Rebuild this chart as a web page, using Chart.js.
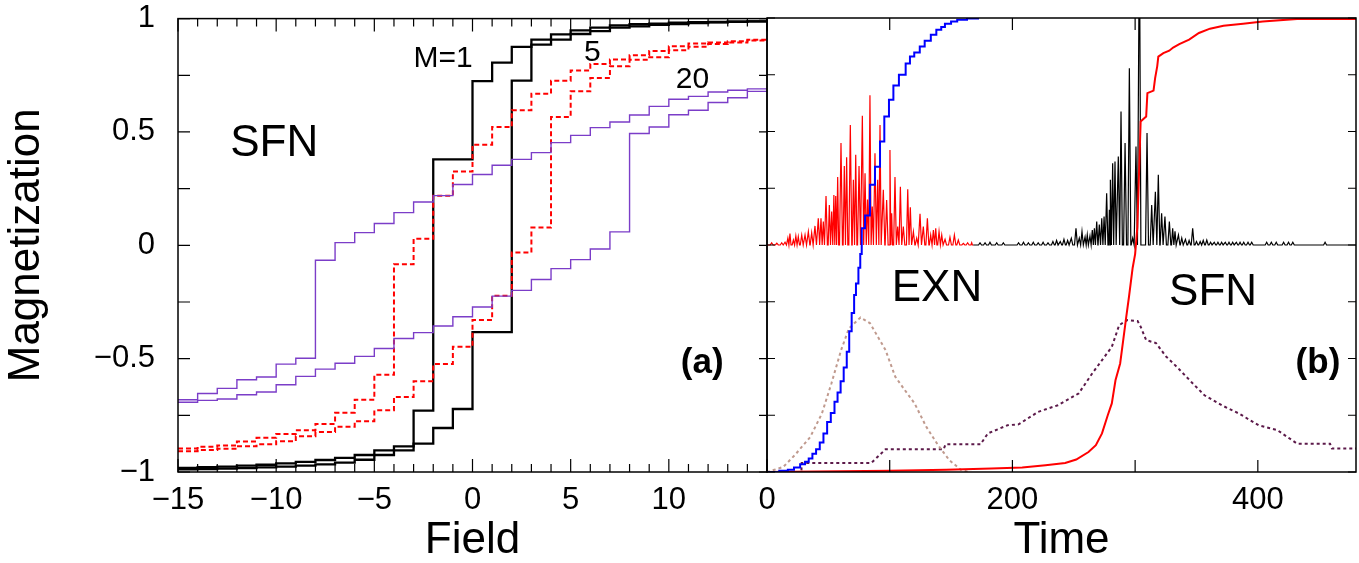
<!DOCTYPE html>
<html>
<head>
<meta charset="utf-8">
<title>Magnetization vs field and time</title>
<script src="https://cdn.jsdelivr.net/npm/chart.js@4.4.1/dist/chart.umd.min.js"></script>
<style>
  html, body { margin: 0; padding: 0; background: #fff; overflow: hidden; }
  #wrap { position: relative; width: 1359px; height: 563px; }
  #wrap canvas { position: absolute; left: 0; top: 0; }
</style>
</head>
<body>
<div id="wrap">
  <canvas id="fieldChart" width="1359" height="563"></canvas>
  <canvas id="timeChart" width="1359" height="563"></canvas>
</div>
<script>
// ---- panel (a): hysteresis loops, value on [k, k+1] listed at k ----
const field = [-15, -14, -13, -12, -11, -10, -9, -8, -7, -6, -5, -4, -3, -2, -1, 0,
  1, 2, 3, 4, 5, 6, 7, 8, 9, 10, 11, 12, 13, 14, 15];

const blackDown = [-0.982, -0.979, -0.976, -0.972, -0.968, -0.962, -0.955, -0.947, -0.938, -0.925, -0.905,
  -0.887, -0.729, 0.379, 0.379, 0.724, 0.806, 0.875, 0.907, 0.93, 0.948, 0.96, 0.97, 0.975, 0.978,
  0.982, 0.984, 0.985, 0.987, 0.988, 0.988];
const blackUp = [-0.988, -0.987, -0.985, -0.983, -0.98, -0.976, -0.972, -0.966, -0.959, -0.946, -0.925,
  -0.905, -0.875, -0.806, -0.722, -0.383, -0.383, 0.726, 0.885, 0.907, 0.932, 0.945, 0.96, 0.966,
  0.972, 0.976, 0.98, 0.983, 0.986, 0.988, 0.988];

const redDown = [-0.896, -0.889, -0.883, -0.865, -0.849, -0.832, -0.816, -0.788, -0.739, -0.681, -0.571,
  -0.084, 0.029, 0.219, 0.326, 0.444, 0.522, 0.596, 0.669, 0.726, 0.771, 0.8, 0.82, 0.838, 0.857,
  0.878, 0.89, 0.895, 0.9, 0.907, 0.907];
const redUp = [-0.908, -0.903, -0.897, -0.886, -0.878, -0.864, -0.842, -0.824, -0.8, -0.776, -0.728,
  -0.669, -0.6, -0.524, -0.447, -0.33, -0.222, -0.032, 0.078, 0.566, 0.679, 0.738, 0.79, 0.818,
  0.829, 0.86, 0.876, 0.888, 0.895, 0.903, 0.903];

const purpleDown = [-0.681, -0.654, -0.631, -0.593, -0.581, -0.524, -0.498, -0.066, 0.012, 0.056, 0.096,
  0.144, 0.191, 0.219, 0.268, 0.312, 0.353, 0.379, 0.409, 0.453, 0.485, 0.519, 0.544, 0.575, 0.613,
  0.644, 0.657, 0.676, 0.684, 0.69, 0.69];
const purpleUp = [-0.692, -0.684, -0.678, -0.659, -0.647, -0.615, -0.578, -0.546, -0.52, -0.49, -0.455,
  -0.411, -0.385, -0.356, -0.315, -0.272, -0.224, -0.199, -0.151, -0.103, -0.063, -0.016, 0.059,
  0.493, 0.522, 0.576, 0.596, 0.63, 0.651, 0.679, 0.679];

// ---- panel (b): time evolution ----
const exnMagT = [0, 10, 17, 22, 27, 31, 34, 37, 40, 43, 46, 49, 52, 55, 57.5, 60, 62.5, 65, 67, 69,
  71, 72.5, 74.5, 76, 77.2, 79.9, 83.9, 88, 92.1, 95.6, 99.4, 103, 107.5, 113, 116.5, 120, 124.5,
  128.5, 133.5, 138, 142, 145, 150, 155, 163, 172];
const exnMag = [-1, -0.995, -0.99, -0.98, -0.966, -0.955, -0.94, -0.92, -0.9, -0.87, -0.83, -0.78,
  -0.74, -0.69, -0.65, -0.6, -0.54, -0.47, -0.38, -0.3, -0.22, -0.17, -0.1, -0.04, 0.074, 0.13,
  0.265, 0.345, 0.456, 0.566, 0.64, 0.703, 0.75, 0.8, 0.83, 0.848, 0.875, 0.9, 0.926, 0.948, 0.96,
  0.975, 0.985, 0.992, 0.998, 1.0];

const sfnMagT = [0, 100, 146, 183, 208, 227, 243, 252, 262, 268, 273, 277.7, 281, 284, 287.8, 290.3,
  292.8, 295, 298, 300, 301.8, 304.5, 309, 310, 315, 316.3, 318, 318.9, 323, 327.8, 331, 336, 344,
  352, 361, 372, 388, 404, 432, 480];
const sfnMag = [-1, -0.995, -0.99, -0.985, -0.98, -0.97, -0.96, -0.945, -0.912, -0.882, -0.83, -0.75,
  -0.698, -0.596, -0.522, -0.419, -0.316, -0.228, -0.1, -0.04, 0.078, 0.544, 0.566, 0.669, 0.68,
  0.735, 0.787, 0.83, 0.845, 0.856, 0.87, 0.885, 0.905, 0.934, 0.953, 0.966, 0.975, 0.985, 0.996, 0.996];

const exnDotT = [0, 6, 13.2, 22.6, 35.2, 44.7, 52.5, 60.4, 66.7, 76.2, 84, 90.3, 96.6, 104.5, 112.4,
  120.3, 129.7, 139.2, 148.6, 158, 164.4];
const exnDot = [-1, -0.99, -0.978, -0.926, -0.846, -0.743, -0.61, -0.463, -0.368, -0.319, -0.345,
  -0.404, -0.463, -0.58, -0.64, -0.698, -0.8, -0.88, -0.948, -0.99, -1];

const sfnDotT = [0, 28, 28.3, 85, 96.6, 144, 145.5, 174, 180, 196, 205, 221, 237, 254, 265, 281, 287,
  293.5, 302, 304.5, 309, 317, 325, 334, 347, 356.5, 370.6, 384.8, 400.6, 416, 432, 458.8, 460.4, 480];
const sfnDot = [-1, -1, -0.96, -0.96, -0.9, -0.9, -0.878, -0.878, -0.83, -0.794, -0.79, -0.735, -0.706,
  -0.654, -0.566, -0.449, -0.353, -0.331, -0.335, -0.36, -0.419, -0.432, -0.49, -0.537, -0.61,
  -0.662, -0.706, -0.743, -0.794, -0.816, -0.875, -0.875, -0.897, -0.897];

// avalanche spikes (time, height above the zero line)
const exnSpikeT = [3.8, 8, 12, 14.7, 17, 18.7, 21.5, 23.5, 25.5, 28.3, 31, 33.7, 36.4, 39.1, 41.8, 44,
  45.9, 48.1, 50.8, 52.7, 54.5, 56, 57.6, 60.3, 63, 64.9, 67.9, 70.4, 72.3, 75, 77.7, 79.9, 81.9,
  83.9, 85.8, 88, 90.2, 92.1, 94.8, 97.5, 100.2, 101.6, 104.3, 106.5, 108.7, 111.1, 114.7, 116.8,
  119.3, 122, 124.7, 127.4, 130.7, 133.4, 135.6, 137.5, 140.2, 142.4, 145.1, 149.1, 152.7, 155.9,
  160, 163.5, 166.8];
const exnSpikeH = [0.01, 0.008, 0.01, 0.012, 0.03, 0.05, 0.022, 0.04, 0.037, 0.044, 0.044, 0.059,
  0.054, 0.084, 0.118, 0.118, 0.103, 0.216, 0.176, 0.147, 0.22, 0.216, 0.299, 0.449, 0.348, 0.387,
  0.529, 0.287, 0.397, 0.348, 0.569, 0.316, 0.2, 0.66, 0.169, 0.404, 0.287, 0.529, 0.243, 0.198,
  0.419, 0.14, 0.299, 0.081, 0.257, 0.081, 0.246, 0.166, 0.059, 0.03, 0.137, 0.081, 0.118, 0.044,
  0.066, 0.074, 0.059, 0.044, 0.025, 0.034, 0.044, 0.022, 0.007, 0.01, 0.01];

const sfnSpikeT = [173.6, 177.7, 181.7, 187.2, 192.6, 205, 209, 213, 217, 221, 225, 229, 233, 236, 239,
  242, 245, 248, 251.8, 254.5, 256.7, 259.2, 261, 263.2, 265.1, 266.8, 268.7, 270.8, 272.8, 274.7,
  276.8, 279, 280.1, 281.7, 283.6, 286.3, 288.5, 291.8, 295.3, 298, 300.7, 303.5, 309.7, 313.5,
  316.5, 318.9, 321.6, 324.3, 327.9, 330.6, 332.5, 335.3, 338, 341, 344, 346.9, 350, 353, 355.5,
  358.4, 361.5, 364.5, 367.5, 370.5, 373.5, 376.5, 379.5, 382.5, 385.5, 388.5, 392, 395, 407.2,
  411, 415, 421, 425, 428.5, 454.8];
const sfnSpikeH = [0.01, 0.01, 0.012, 0.01, 0.01, 0.01, 0.012, 0.01, 0.012, 0.01, 0.012, 0.01, 0.015,
  0.02, 0.015, 0.025, 0.02, 0.03, 0.074, 0.03, 0.059, 0.035, 0.045, 0.04, 0.066, 0.074, 0.103, 0.09,
  0.118, 0.125, 0.228, 0.155, 0.287, 0.36, 0.368, 0.39, 0.588, 0.449, 0.779, 0.03, 0.434, 1.4,
  0.493, 0.176, 0.235, 0.309, 0.14, 0.125, 0.103, 0.074, 0.06, 0.044, 0.03, 0.025, 0.02, 0.074,
  0.015, 0.015, 0.02, 0.022, 0.012, 0.012, 0.012, 0.012, 0.012, 0.012, 0.012, 0.012, 0.012, 0.012,
  0.012, 0.012, 0.012, 0.012, 0.012, 0.012, 0.012, 0.012, 0.012];

const fieldTicks = [-15, -10, -5, 0, 5, 10];
const timeTicks = [0, 200, 400];
const magTicks = [-1, -0.5, 0, 0.5, 1];

Chart.defaults.font.family = '"Liberation Sans", Arial, Helvetica, sans-serif';
Chart.defaults.color = '#000';

const fmt = v => (v < 0 ? '\u2212' : '') + Math.abs(v);
const toXY = (xs, ys) => xs.map((x, i) => ({ x, y: ys[i] }));

function spikeTrace(ts, hs, t0, t1) {
  const pts = [{ x: t0, y: 0 }];
  ts.forEach((t, i) => {
    const gapL = i ? t - ts[i - 1] : t - t0;
    const gapR = i < ts.length - 1 ? ts[i + 1] - t : t1 - t;
    const w = Math.min(1.2, gapL / 2, gapR / 2);
    pts.push({ x: t - w, y: 0 }, { x: t, y: hs[i] }, { x: t + w, y: 0 });
  });
  pts.push({ x: t1, y: 0 });
  return pts;
}

// inward tick marks and the box round the plot
function frameTicks(cfg) {
  return {
    id: 'frameTicks',
    afterDatasetsDraw(chart) {
      const { ctx, chartArea: a, scales: { x, y } } = chart;
      ctx.save();
      ctx.strokeStyle = '#000';
      ctx.lineWidth = 1.2;
      ctx.beginPath();
      for (let v = x.min; v <= x.max + 1e-9; v += cfg.xStep) {
        const px = x.getPixelForValue(v);
        const len = Math.abs(v % cfg.xMajor) < 1e-9 ? cfg.xMajorLen : cfg.xMinorLen;
        ctx.moveTo(px, a.bottom); ctx.lineTo(px, a.bottom - len);
        ctx.moveTo(px, a.top); ctx.lineTo(px, a.top + len);
      }
      for (let v = y.min; v <= y.max + 1e-9; v += cfg.yStep) {
        const py = y.getPixelForValue(v);
        ctx.moveTo(a.left, py); ctx.lineTo(a.left + cfg.yLeftLen, py);
        ctx.moveTo(a.right, py); ctx.lineTo(a.right - cfg.yRightLen, py);
      }
      ctx.stroke();
      ctx.lineWidth = 1.5;
      ctx.strokeRect(a.left, a.top, a.width, a.height);
      ctx.restore();
    }
  };
}

function notes(items) {
  return {
    id: 'notes',
    afterDatasetsDraw(chart) {
      const { ctx, scales: { x, y } } = chart;
      ctx.save();
      ctx.fillStyle = '#000';
      ctx.textAlign = 'center';
      ctx.textBaseline = 'middle';
      items.forEach(n => {
        ctx.font = n.font;
        ctx.fillText(n.text, x.getPixelForValue(n.x), y.getPixelForValue(n.y));
      });
      ctx.restore();
    }
  };
}

const FAM = '"Liberation Sans", Arial, sans-serif';
const tickFont = { size: 31 };
const titleFont = { size: 44, lineHeight: 1 };
// invisible tick marks used only as the gap between axis and labels
const hiddenGrid = len => ({
  display: true, drawOnChartArea: false, drawTicks: true, tickLength: len, color: 'rgba(0,0,0,0)'
});

const stepLine = (data, color, width, dash) => ({
  data, borderColor: color, borderWidth: width, borderDash: dash || [],
  stepped: 'before', pointRadius: 0, fill: false
});
const plainLine = (data, color, width, dash) => ({
  data, borderColor: color, borderWidth: width, borderDash: dash || [],
  pointRadius: 0, fill: false, tension: 0
});

new Chart(document.getElementById('fieldChart'), {
  type: 'line',
  data: {
    datasets: [
      stepLine(toXY(field, purpleDown), '#7b3dc8', 1.4),
      stepLine(toXY(field, purpleUp), '#7b3dc8', 1.4),
      stepLine(toXY(field, redDown), '#ff0000', 2, [5, 3]),
      stepLine(toXY(field, redUp), '#ff0000', 2, [5, 3]),
      stepLine(toXY(field, blackDown), '#000000', 2.3),
      stepLine(toXY(field, blackUp), '#000000', 2.3)
    ]
  },
  options: {
    responsive: false,
    animation: false,
    events: [],
    layout: { padding: { left: 0, right: 592, top: 18, bottom: 0 } },
    plugins: { legend: { display: false }, tooltip: { enabled: false } },
    scales: {
      x: {
        type: 'linear', min: -15, max: 15,
        grid: hiddenGrid(10), border: { display: false },
        ticks: {
          stepSize: 5, autoSkip: false, maxRotation: 0, minRotation: 0, padding: 0, font: tickFont,
          callback: v => (fieldTicks.includes(v) ? fmt(v) : '')
        },
        title: { display: true, text: 'Field', font: titleFont, padding: { top: 0, bottom: 0 } },
        afterFit: s => { s.height = 91; }
      },
      y: {
        min: -1, max: 1,
        grid: hiddenGrid(23), border: { display: false },
        ticks: {
          stepSize: 0.5, autoSkip: false, padding: 0, font: tickFont,
          callback: v => (magTicks.includes(v) ? fmt(v) : '')
        },
        title: { display: true, text: 'Magnetization', font: titleFont, padding: { top: 5, bottom: 0 } },
        afterFit: s => { s.width = 178; }
      }
    }
  },
  plugins: [
    frameTicks({ xStep: 1, xMajor: 5, xMinorLen: 8, xMajorLen: 13, yStep: 0.25, yLeftLen: 12, yRightLen: 8 }),
    notes([
      { text: 'M=1', x: -1.5, y: 0.825, font: '30px ' + FAM },
      { text: '5', x: 6.1, y: 0.851, font: '30px ' + FAM },
      { text: '20', x: 11.2, y: 0.732, font: '30px ' + FAM },
      { text: 'SFN', x: -10.1, y: 0.446, font: '44px ' + FAM },
      { text: '(a)', x: 11.7, y: -0.52, font: 'bold 35px ' + FAM }
    ])
  ]
});

new Chart(document.getElementById('timeChart'), {
  type: 'line',
  data: {
    datasets: [
      stepLine(toXY(exnMagT, exnMag), '#0000ff', 2),
      plainLine(toXY(sfnMagT, sfnMag), '#ff0000', 2),
      plainLine(toXY(exnDotT, exnDot), '#c09a8e', 2, [3, 3]),
      plainLine(toXY(sfnDotT, sfnDot), '#5c1a4a', 2, [3, 3]),
      plainLine(spikeTrace(exnSpikeT, exnSpikeH, 0, 168), '#ff0000', 1.2),
      plainLine(spikeTrace(sfnSpikeT, sfnSpikeH, 168, 480), '#000000', 1.2)
    ]
  },
  options: {
    responsive: false,
    animation: false,
    events: [],
    layout: { padding: { left: 767, right: 3, top: 18, bottom: 0 } },
    plugins: { legend: { display: false }, tooltip: { enabled: false } },
    scales: {
      x: {
        type: 'linear', min: 0, max: 480,
        grid: hiddenGrid(10), border: { display: false },
        ticks: {
          stepSize: 200, autoSkip: false, maxRotation: 0, minRotation: 0, padding: 0, font: tickFont,
          callback: v => (timeTicks.includes(v) ? String(v) : '')
        },
        title: { display: true, text: 'Time', font: titleFont, padding: { top: 0, bottom: 0 } },
        afterFit: s => { s.height = 91; }
      },
      y: { display: false, min: -1, max: 1 }
    }
  },
  plugins: [
    frameTicks({ xStep: 100, xMajor: 100, xMinorLen: 12, xMajorLen: 12, yStep: 0.25, yLeftLen: 8, yRightLen: 8 }),
    notes([
      { text: 'EXN', x: 138.5, y: -0.194, font: '44px ' + FAM },
      { text: 'SFN', x: 363.5, y: -0.212, font: '44px ' + FAM },
      { text: '(b)', x: 449, y: -0.52, font: 'bold 35px ' + FAM }
    ])
  ]
});
</script>
</body>
</html>
